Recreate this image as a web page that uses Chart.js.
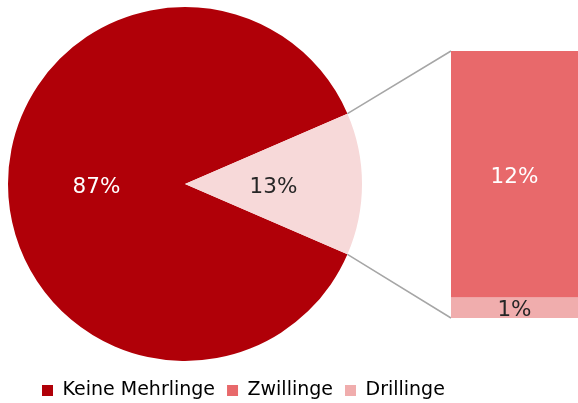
<!DOCTYPE html>
<html>
<head>
<meta charset="utf-8">
<script src="https://cdn.jsdelivr.net/npm/chart.js@4.4.1/dist/chart.umd.min.js"></script>
<style>
  html, body { margin: 0; padding: 0; background: #fff; overflow: hidden; }
  body { width: 578px; height: 403px; position: relative; }
  #pie { position: absolute; left: 0; top: 0; }
  #bar { position: absolute; left: 30px; top: 0; }
</style>
</head>
<body>
<canvas id="pie" width="370" height="403"></canvas>
<canvas id="bar" width="548" height="410"></canvas>
<script>
// pie: main split
const pieLabels = ['Keine Mehrlinge', 'Mehrlinge'];
const pieValues = [87, 13];
const pieColors = ['#b00008', '#f7d9d9'];
const pieTextColors = ['#ffffff', '#262626'];

// bar: breakdown of the small slice (bottom to top)
const barLabels = ['Drillinge', 'Zwillinge'];
const barValues = [1, 12];
const barColors = ['#f0adad', '#e8696b'];
const barTextColors = ['#262626', '#ffffff'];

const legendLabels = ['Keine Mehrlinge', 'Zwillinge', 'Drillinge'];
const legendColors = ['#b00008', '#e8696b', '#f0adad'];

Chart.defaults.font.family = '"DejaVu Sans", Verdana, sans-serif';
Chart.defaults.color = '#262626';

const barLeft = 30;
const labelSize = 21.5;

function valueLabels(colors) {
    return {
        id: 'valueLabels',
        afterDatasetsDraw(chart) {
            const ctx = chart.ctx;
            ctx.save();
            ctx.font = labelSize + 'px "DejaVu Sans", Verdana, sans-serif';
            ctx.textAlign = 'center';
            ctx.textBaseline = 'alphabetic';
            let k = 0;
            chart.data.datasets.forEach((ds, i) => {
                chart.getDatasetMeta(i).data.forEach((el, j) => {
                    const p = el.getCenterPoint();
                    ctx.fillStyle = colors[k++];
                    // centre the digits' cap height on the element centre
                    ctx.fillText(ds.data[j] + '%', p.x, p.y + labelSize * 0.36 + 1);
                });
            });
            ctx.restore();
        }
    };
}

const pieTotal = pieValues.reduce((a, b) => a + b, 0);
const barTotal = barValues.reduce((a, b) => a + b, 0);
// turn the pie so the small slice points right, toward the bar
const rotation = 90 - 360 * (pieValues[0] + pieValues[1] / 2) / pieTotal;

const pieChart = new Chart(document.getElementById('pie'), {
    type: 'pie',
    data: {
        labels: pieLabels,
        datasets: [{
            data: pieValues,
            backgroundColor: pieColors,
            borderWidth: 0
        }]
    },
    options: {
        responsive: false,
        animation: false,
        events: [],
        rotation: rotation,
        layout: { padding: { left: 8, right: 8, top: 7, bottom: 42 } },
        plugins: {
            legend: { display: false },
            tooltip: { enabled: false }
        }
    },
    plugins: [valueLabels(pieTextColors)]
});

const connectors = {
    id: 'connectors',
    beforeDatasetsDraw(chart) {
        const arc = pieChart.getDatasetMeta(0).data[1];
        const top = chart.getDatasetMeta(1).data[0];
        const bottom = chart.getDatasetMeta(0).data[0];
        const r = arc.outerRadius;
        const x0 = top.x - top.width / 2;
        const ctx = chart.ctx;
        ctx.save();
        ctx.strokeStyle = '#a6a6a6';
        ctx.lineWidth = 1.5;
        ctx.beginPath();
        ctx.moveTo(arc.x + r * Math.cos(arc.startAngle) - barLeft, arc.y + r * Math.sin(arc.startAngle));
        ctx.lineTo(x0, top.y);
        ctx.moveTo(arc.x + r * Math.cos(arc.endAngle) - barLeft, arc.y + r * Math.sin(arc.endAngle));
        ctx.lineTo(x0, bottom.base);
        ctx.stroke();
        ctx.restore();
    }
};

new Chart(document.getElementById('bar'), {
    type: 'bar',
    data: {
        labels: [''],
        datasets: barLabels.map((name, i) => ({
            label: name,
            data: [barValues[i]],
            backgroundColor: barColors[i],
            borderWidth: 0,
            barPercentage: 1,
            categoryPercentage: 1
        }))
    },
    options: {
        responsive: false,
        animation: false,
        events: [],
        layout: { padding: { top: 51, right: 0, bottom: 0, left: 0 } },
        scales: {
            x: {
                stacked: true,
                grid: { display: false },
                border: { display: false },
                ticks: { display: false },
                afterFit: s => { s.height = 51; }
            },
            y: {
                stacked: true,
                min: 0,
                max: barTotal,
                grid: { display: false },
                border: { display: false },
                ticks: { display: false },
                afterFit: s => { s.width = 451 - barLeft; }
            }
        },
        plugins: {
            tooltip: { enabled: false },
            legend: {
                position: 'bottom',
                align: 'start',
                onClick: null,
                labels: {
                    boxWidth: 11,
                    boxHeight: 11,
                    padding: 12,
                    color: '#262626',
                    font: { size: 19 },
                    generateLabels: () => legendLabels.map((text, i) => ({
                        text: text,
                        fillStyle: legendColors[i],
                        strokeStyle: legendColors[i],
                        lineWidth: 0,
                        hidden: false,
                        index: i
                    }))
                }
            }
        }
    },
    plugins: [connectors, valueLabels(barTextColors)]
});
</script>
</body>
</html>
